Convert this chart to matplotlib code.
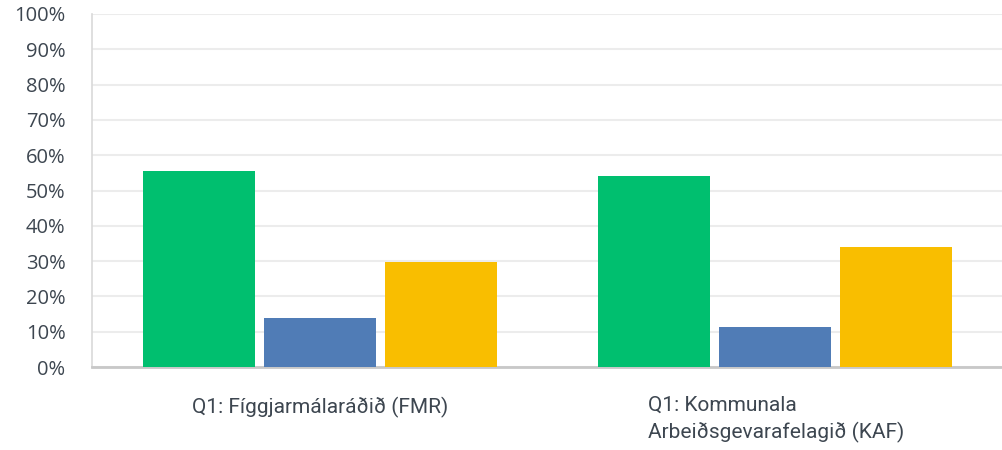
import numpy as np
import matplotlib
matplotlib.use("Agg")
import matplotlib.pyplot as plt
from matplotlib.ticker import FuncFormatter

# data
categories = ["Q1: Fíggjarmálaráðið (FMR)",
              "Q1: Kommunala\nArbeiðsgevarafelagið (KAF)"]
series_green = [0.555, 0.541]
series_blue = [0.139, 0.113]
series_yellow = [0.297, 0.340]
colors = ["#00BF6F", "#507CB6", "#F9BE00"]
yticks = np.arange(0, 1.01, 0.1)

fig = plt.figure(figsize=(10.03, 4.5), dpi=100)
ax = fig.add_axes([0.0917, 0.1844, 0.9083, 0.7845])

x = np.arange(len(categories))
w = 0.246
step = 0.266
for i, (vals, c) in enumerate(zip([series_green, series_blue, series_yellow], colors)):
    ax.bar(x + (i - 1) * step, vals, width=w, color=c, zorder=3)

ax.set_xlim(-0.5, len(categories) - 0.5)
ax.set_ylim(0, 1)
ax.set_yticks(yticks)
ax.yaxis.set_major_formatter(FuncFormatter(lambda v, p: f"{v*100:.0f}%"))
ax.tick_params(axis="y", length=0, pad=19, labelsize=14.5, labelcolor="#3d4650")
for lab in ax.get_yticklabels():
    lab.set_fontfamily("Open Sans")
ax.set_xticks([])
ax.grid(axis="y", color="#ececec", linewidth=1.5, zorder=0)

for s in ["top", "right"]:
    ax.spines[s].set_visible(False)
ax.spines["left"].set_color("#d9d9d9")
ax.spines["left"].set_linewidth(1.2)
ax.spines["bottom"].set_color("#c8c8c8")
ax.spines["bottom"].set_linewidth(2)

# category labels, left aligned like the original (baseline = last line)
label_x = [-0.281, 0.720]
label_y = [-0.13, -0.201]
for lx, ly, cat in zip(label_x, label_y, categories):
    ax.text(lx, ly, cat, transform=ax.get_xaxis_transform(),
            ha="left", va="baseline", fontsize=15, color="#3d4650",
            family="Roboto", linespacing=1.39)

fig.savefig("out.png", dpi=100)
